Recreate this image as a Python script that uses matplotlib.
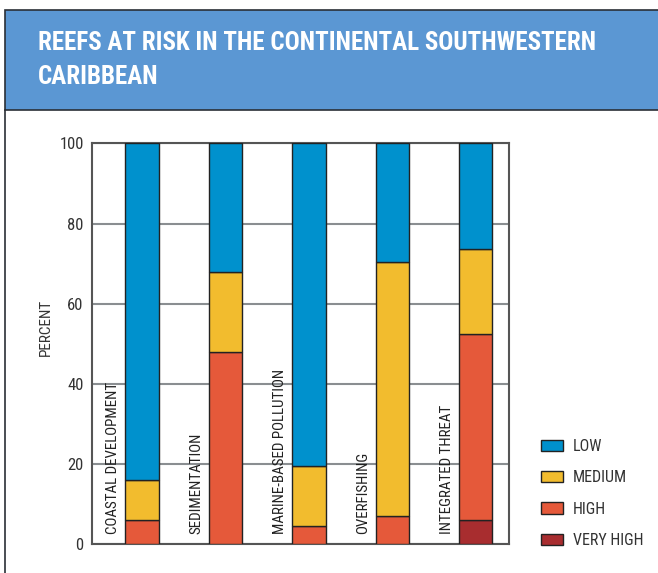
import matplotlib.pyplot as plt
from matplotlib.patches import Rectangle
from matplotlib.lines import Line2D

# Share of reefs (%) in each threat level, by type of threat
categories = ["COASTAL DEVELOPMENT", "SEDIMENTATION", "MARINE-BASED POLLUTION",
              "OVERFISHING", "INTEGRATED THREAT"]
very_high = [0, 0, 0, 0, 6]
high = [6, 48, 4.5, 7, 46.5]
medium = [10, 20, 15, 63.5, 21.2]
low = [84, 32, 80.5, 29.5, 26.3]

levels = ["VERY HIGH", "HIGH", "MEDIUM", "LOW"]
colors = ["#a82d2f", "#e5593a", "#f2bc2e", "#0091cd"]
yticks = [0, 20, 40, 60, 80, 100]

plt.rcParams["font.family"] = ["Roboto Condensed", "DejaVu Sans"]

W, H = 658, 573
fig = plt.figure(figsize=(W / 100, H / 100), dpi=100)

# header band with title
fig.patches.append(Rectangle((5 / W, 1 - 110 / H), 1, 100 / H,
                             transform=fig.transFigure, facecolor="#5b97d3",
                             edgecolor="#2a2f36", linewidth=1.2, zorder=0))
fig.add_artist(Line2D([5 / W, 5 / W], [0, 1 - 110 / H],
                      transform=fig.transFigure, color="#2a2f36", lw=1.2))
for txt, yy in [("REEFS AT RISK IN THE CONTINENTAL SOUTHWESTERN", 42.5),
                ("CARIBBEAN", 77.5)]:
    fig.text(38 / W, 1 - yy / H, txt, color="white", fontsize=18,
             fontweight="bold", va="center", ha="left")

ax = fig.add_axes([92 / W, 1 - 544.3 / H, 417 / W, 401 / H])

x = [i + 0.1 for i in range(len(categories))]
bottom = [0] * len(categories)
handles = []
for name, vals, col in zip(levels, [very_high, high, medium, low], colors):
    bars = ax.bar(x, vals, width=0.4, bottom=bottom, color=col,
                  edgecolor="#222222", linewidth=1, label=name, zorder=3)
    handles.append(bars)
    bottom = [b + v for b, v in zip(bottom, vals)]

for i, cat in enumerate(categories):
    ax.text(i - 0.245, 2.6, cat, rotation=90, ha="center", va="bottom",
            fontsize=10.8, color="#222222")

ax.set_xlim(-0.5, 4.5)
ax.set_ylim(0, 100)
ax.set_xticks([])
ax.set_yticks(yticks)
ax.tick_params(axis="y", length=0, pad=6, labelsize=12, labelcolor="#333333")
ax.yaxis.grid(True, color="#8a8e91", linewidth=1.5, zorder=0)
ax.set_axisbelow(True)
for sp in ax.spines.values():
    sp.set_color("#555555")
    sp.set_linewidth(1.5)
ax.set_ylabel("PERCENT", fontsize=11, color="#333333")
ax.yaxis.set_label_coords(-0.094, 0.54)

ax.legend(handles[::-1], levels[::-1], loc="upper left",
          bbox_to_anchor=(541 / W, 1 - 439 / H), bbox_transform=fig.transFigure,
          frameon=False, fontsize=11.5, handlelength=1.4, handleheight=0.72,
          handletextpad=0.6, labelspacing=1.02, labelcolor="#333333",
          borderpad=0, borderaxespad=0)

fig.savefig("out.png", dpi=100)
